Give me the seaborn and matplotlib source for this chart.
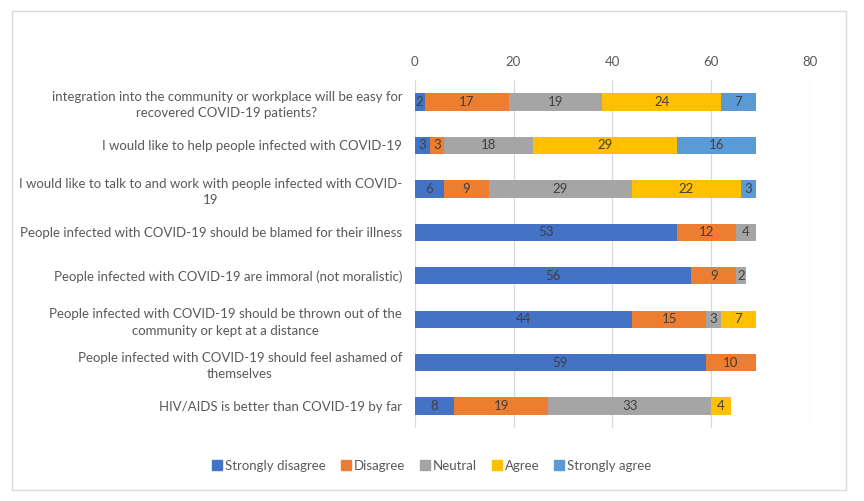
import numpy as np
import matplotlib
matplotlib.use("Agg")
import matplotlib.pyplot as plt
import seaborn as sns
import pandas as pd
from matplotlib.patches import Rectangle
from matplotlib.lines import Line2D

statements = [
    "integration into the community or workplace will be easy for\nrecovered COVID-19 patients?",
    "I would like to help people infected with COVID-19",
    "I would like to talk to and work with people infected with COVID-\n19",
    "People infected with COVID-19 should be blamed for their illness",
    "People infected with COVID-19 are immoral (not moralistic)",
    "People infected with COVID-19 should be thrown out of the\ncommunity or kept at a distance",
    "People infected with COVID-19 should feel ashamed of\nthemselves",
    "HIV/AIDS is better than COVID-19 by far",
]
levels = ["Strongly disagree", "Disagree", "Neutral", "Agree", "Strongly agree"]
strongly_disagree = [2, 3, 6, 53, 56, 44, 59, 8]
disagree = [17, 3, 9, 12, 9, 15, 10, 19]
neutral = [19, 18, 29, 4, 2, 3, 0, 33]
agree = [24, 29, 22, 0, 0, 7, 0, 4]
strongly_agree = [7, 16, 3, 0, 0, 0, 0, 0]
colors = ["#4472C4", "#ED7D31", "#A5A5A5", "#FFC000", "#5B9BD5"]
xticks = [0, 20, 40, 60, 80]

df = pd.DataFrame({"statement": statements,
                   "Strongly disagree": strongly_disagree,
                   "Disagree": disagree,
                   "Neutral": neutral,
                   "Agree": agree,
                   "Strongly agree": strongly_agree})
cum = df[levels].cumsum(axis=1)

sns.set_style("white")
plt.rcParams['font.family'] = ['Lato', 'DejaVu Sans']
txt = "#595959"
fs = 9.5

fig = plt.figure(figsize=(8.64, 5.01), dpi=100)
ax = fig.add_axes([0.480, 0.146, 0.4575, 0.694])

# stacked bars: draw cumulative totals from the outermost level inward
for lev, col in zip(levels[::-1], colors[::-1]):
    sns.barplot(x=cum[lev], y=df["statement"], color=col, orient="h",
                width=0.4, ax=ax, saturation=1, edgecolor="none")

for i in range(len(df)):
    for lev in levels:
        v = df.loc[i, lev]
        if v > 0:
            ax.text(cum.loc[i, lev] - v / 2, i, str(v), ha="center", va="center",
                    fontsize=fs, color="#404040")

ax.set_xlim(0, 80)
ax.set_ylim(7.5, -0.5)
ax.set_xticks(xticks)
ax.xaxis.tick_top()
ax.tick_params(axis="x", length=0, labelsize=fs, labelcolor=txt, pad=9)
ax.tick_params(axis="y", length=0, labelsize=fs, labelcolor=txt, pad=9)
for lab in ax.get_yticklabels():
    lab.set_multialignment("center")
    lab.set_linespacing(1.45)
ax.grid(axis="x", color="#d9d9d9", linewidth=0.9)
ax.set_axisbelow(True)
for s in ax.spines.values():
    s.set_visible(False)
ax.set_xlabel("")
ax.set_ylabel("")

handles = [Line2D([0], [0], marker="s", linestyle="none", markersize=6.5,
                  markerfacecolor=c, markeredgecolor=c) for c in colors]
leg = fig.legend(handles, levels, loc="center", bbox_to_anchor=(0.499, 0.07),
                 ncol=5, frameon=False, fontsize=fs, handletextpad=0.1,
                 columnspacing=1.0, handlelength=1.0)
for t in leg.get_texts():
    t.set_color(txt)

fig.patches.append(Rectangle((12 / 864, 1 - 490 / 501), 834 / 864, 479 / 501,
                             transform=fig.transFigure, fill=False,
                             edgecolor="#d9d9d9", linewidth=1))

fig.savefig("out.png", dpi=100)
